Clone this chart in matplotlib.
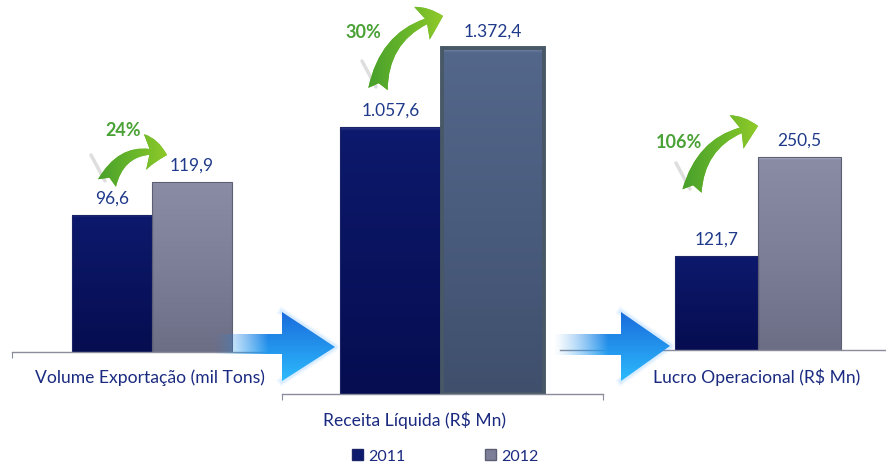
import numpy as np
import matplotlib
matplotlib.use("Agg")
import matplotlib.pyplot as plt
from matplotlib.colors import LinearSegmentedColormap, to_rgb
from matplotlib.patches import Patch, Polygon, FancyArrowPatch, Rectangle

plt.rcParams['font.family'] = ['Lato', 'DejaVu Sans']

# data
years = ['2011', '2012']
panels = ['Volume Exportação (mil Tons)', r'Receita Líquida (R\$ Mn)', r'Lucro Operacional (R\$ Mn)']
volume = [96.6, 119.9]
receita = [1057.6, 1372.4]
lucro = [121.7, 250.5]
growth = ['24%', '30%', '106%']

W, H = 887, 464
fig = plt.figure(figsize=(W / 100, H / 100), dpi=100)
fig.patch.set_facecolor('white')


def rect(x0, y0, x1, y1):
    # pixel box (top-left origin) -> figure fraction
    return [x0 / W, 1 - y1 / H, (x1 - x0) / W, (y1 - y0) / H]


def br(v):
    s = f"{v:,.1f}"
    return s.replace(',', 'X').replace('.', ',').replace('X', '.')


def shade(ax, bar, stops, edge, lw):
    x, y = bar.get_x(), bar.get_y()
    w, h = bar.get_width(), bar.get_height()
    cmap = LinearSegmentedColormap.from_list('b', stops)
    grad = np.linspace(0, 1, 512)[:, None]
    im = ax.imshow(grad, extent=(x, x + w, y, y + h), origin='upper', cmap=cmap,
                   aspect='auto', zorder=bar.get_zorder() + 0.1, interpolation='bilinear')
    im.set_clip_path(bar)
    ax.add_patch(Rectangle((x, y), w, h, fill=False, edgecolor=edge, linewidth=lw,
                           zorder=bar.get_zorder() + 0.2))


navy = [(0, '#2c3a8a'), (0.012, '#0d196c'), (0.5, '#09135e'), (1, '#060d50')]
grey = [(0, '#b4b6ca'), (0.012, '#8a8ca6'), (0.5, '#7d7f98'), (1, '#6c6e86')]
slate = [(0, '#7486a6'), (0.012, '#53678a'), (0.5, '#4a5c7e'), (1, '#3f4f6c')]

# (values, axes box in px, px per unit, bar width px, first bar left px, 2012 colours, 2012 edge, edge ticks)
layout = [
    (volume, (12, 0, 290, 353), 1.418, 80, 72, grey, ('#5c5e74', 0.8), 'left'),
    (receita, (282, 0, 603, 395), 0.252, 102, 340, slate, ('#485866', 2.8), 'both'),
    (lucro, (560, 0, 887, 351), 0.77, 83, 675, grey, ('#5c5e74', 0.8), 'none'),
]

for vals, box, scale, bw, left, col12, edge12, ticks in layout:
    x0, y0, x1, y1 = box
    ax = fig.add_axes(rect(*box))
    ax.patch.set_alpha(0)
    xmin = -0.5 - (left - x0) / bw
    xmax = xmin + (x1 - x0) / bw
    bars = ax.bar([0, 1], vals, width=1.0, color=[navy[1][1], col12[1][1]],
                  linewidth=0, zorder=2)
    shade(ax, bars[0], navy, '#1a2466', 0.8)
    shade(ax, bars[1], col12, *edge12)
    for b, v in zip(bars, vals):
        ax.annotate(br(v), (b.get_x() + b.get_width() / 2, v), xytext=(0, 7),
                    textcoords='offset points', ha='center', va='bottom',
                    fontsize=12.5, color='#1f3a8a')
    ax.set_xlim(xmin, xmax)
    ax.set_ylim(0, (y1 - y0) / scale)
    for s in ['top', 'right', 'left']:
        ax.spines[s].set_visible(False)
    ax.spines['bottom'].set_color('#8a8c9c')
    ax.spines['bottom'].set_linewidth(1.0)
    ax.set_yticks([])
    if ticks == 'left':
        ax.set_xticks([xmin])
    elif ticks == 'both':
        ax.set_xticks([xmin, xmax])
    else:
        ax.set_xticks([])
    ax.tick_params(axis='x', length=4.5, color='#8a8c9c', labelbottom=False)

# overlay for labels and arrows, in pixel coordinates
deco = fig.add_axes([0, 0, 1, 1])
deco.set_xlim(0, W)
deco.set_ylim(H, 0)
deco.axis('off')
deco.patch.set_alpha(0)

label_pos = [(150, 378), (415, 420), (757, 377)]
for name, (x, y) in zip(panels, label_pos):
    deco.text(x, y, name, ha='center', va='center', fontsize=12.6, color='#1a2a80')

# blue block arrows between panels
blue_arrows = [
    [(213, 335), (282, 335), (282, 313), (335, 348), (282, 382), (282, 355), (213, 355)],
    [(553, 335), (621, 335), (621, 313), (670, 347), (621, 382), (621, 356), (553, 356)],
]
top_c, bot_c = np.array(to_rgb('#1a6cdc')), np.array(to_rgb('#2cbafc'))
for pts in blue_arrows:
    xs = [p[0] for p in pts]
    ys = [p[1] for p in pts]
    xa, xb, ya, yb = min(xs), max(xs), min(ys), max(ys)
    # soft glow around the head only
    head = pts[1:6]
    for lw, a in [(6, 0.07), (3.5, 0.14)]:
        deco.plot([p[0] for p in head[1:4]], [p[1] for p in head[1:4]], color='#4aa8ff',
                  lw=lw, alpha=a, solid_joinstyle='round', zorder=2)
    poly = Polygon(pts, closed=True, facecolor='none', edgecolor='none')
    deco.add_patch(poly)
    ny, nx = 80, 200
    t = np.linspace(0, 1, ny)[:, None, None]
    rgb = top_c * (1 - t) + bot_c * t
    rgb = np.broadcast_to(rgb, (ny, nx, 3))
    px = np.linspace(xa, xb, nx)
    alpha = np.clip((px - xa) / 55.0, 0, 1) ** 1.3
    img = np.dstack([rgb, np.broadcast_to(alpha[None, :], (ny, nx))])
    im = deco.imshow(img, extent=(xa, xb, yb, ya), aspect='auto', zorder=3)
    im.set_clip_path(poly)

# green growth arrows
green_arrows = [((107, 184), (167, 156), -0.45), ((378, 90), (443, 17), -0.35), ((692, 192), (758, 127), -0.35)]
gmap = LinearSegmentedColormap.from_list('g', ['#3f9a2c', '#6cb82a', '#a6d428'])
for (pa, pb, rad) in green_arrows:
    deco.plot([pa[0] - 2, pa[0] - 16], [pa[1] - 2, pa[1] - 28], color='#c8c8c8', lw=2.5,
              alpha=0.6, solid_capstyle='round', zorder=2)
    arr = FancyArrowPatch(pa, pb, connectionstyle=f'arc3,rad={rad}',
                          arrowstyle='fancy,head_length=16,head_width=26,tail_width=14',
                          mutation_scale=1, facecolor='#6cb82a', edgecolor='none',
                          shrinkA=0, shrinkB=0, zorder=4)
    deco.add_patch(arr)
    g = np.linspace(0, 1, 128)[None, :]
    im = deco.imshow(g, extent=(min(pa[0], pb[0]) - 20, max(pa[0], pb[0]) + 20,
                                max(pa[1], pb[1]) + 20, min(pa[1], pb[1]) - 20),
                     cmap=gmap, aspect='auto', zorder=5)
    im.set_clip_path(arr)

pct_pos = [(123, 131), (363, 32), (679, 143)]
for txt, (x, y) in zip(growth, pct_pos):
    deco.text(x, y, txt, ha='center', va='center', fontsize=13, fontweight='bold', color='#4aa236')

deco.set_xlim(0, W)
deco.set_ylim(H, 0)

handles = [Patch(facecolor=navy[1][1], edgecolor='#1a2466', label=years[0]),
           Patch(facecolor=grey[2][1], edgecolor='#5c5e74', label=years[1])]
fig.legend(handles=handles, loc='center', bbox_to_anchor=(445 / W, 1 - 457 / H), ncol=2,
           frameon=False, fontsize=11.5, handlelength=0.7, handleheight=0.7,
           handletextpad=0.3, columnspacing=5.0, labelcolor='#1a2a80')

fig.savefig('out.png', dpi=100, facecolor='white')
